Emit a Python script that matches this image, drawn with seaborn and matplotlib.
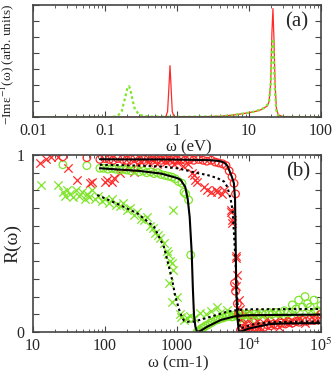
"""Loss function (a) and reflectivity (b) panels, redrawn with seaborn."""

import matplotlib
matplotlib.use("Agg")
import matplotlib.pyplot as plt
import matplotlib.ticker as mtick
import numpy as np
import pandas as pd
import seaborn as sns

RED = "#ff2b2b"
GREEN = "#7fe52a"

# ---- panel (a): -Im eps^-1 vs energy (eV)
loss_red_ev = [0.01, 0.5, 0.66, 0.7, 0.74, 0.77, 0.8, 0.83, 0.86, 0.9, 0.95, 1.0, 2.0,
               4.0, 6.0, 8.0, 10.0, 12.0, 14.0, 16.0, 18.0, 19.0, 20.0, 20.8, 21.5, 22.2,
               23.0, 24.0, 25.5, 30.0, 100.0]
loss_red = [0, 0, 0.002, 0.006, 0.05, 0.25, 0.46, 0.25, 0.05, 0.012, 0.005, 0.004, 0.003,
            0.008, 0.018, 0.03, 0.04, 0.05, 0.06, 0.08, 0.1, 0.14, 0.3, 0.75, 0.97, 0.7,
            0.3, 0.08, 0.02, 0.003, 0]
loss_green_ev = [0.01, 0.12, 0.15, 0.17, 0.19, 0.205, 0.215, 0.225, 0.24, 0.26, 0.3, 0.4,
                 1.0, 3.0, 5.0, 7.0, 10.0, 12.0, 14.0, 16.0, 18.0, 19.0, 20.0, 20.8, 21.5,
                 22.2, 23.0, 24.0, 25.5, 30.0, 100.0]
loss_green = [0, 0, 0.01, 0.05, 0.17, 0.26, 0.277, 0.25, 0.16, 0.07, 0.02, 0.005,
              0.003, 0.005, 0.012, 0.025, 0.04, 0.05, 0.065, 0.08, 0.11, 0.14, 0.3, 0.6,
              0.7, 0.5, 0.22, 0.06, 0.01, 0.002, 0]

# ---- panel (b): reflectivity vs wavenumber (cm-1)
red_x_w = [12.6, 15, 18, 22, 31, 41, 62, 66, 100, 107, 126, 132, 160, 200, 250, 280, 320,
           400, 470, 520, 600, 700, 800, 900, 1000, 1200, 1400, 1600, 1700, 1800, 1900,
           2340, 2630, 2950, 3470, 3630, 4270, 4470, 5620, 5560, 5890, 5890, 6530, 6530,
           6900, 6530, 7240, 7500, 7900, 8500, 9000, 10000, 11000, 12000, 13000, 14000,
           16000, 18000, 20000, 23000, 26000, 30000, 35000, 40000, 50000, 60000, 80000,
           100000]
red_x_r = [0.953, 0.98, 0.99, 0.99, 0.925, 0.86, 0.84, 0.85, 0.85, 0.86, 0.85, 0.87, 0.9,
           0.93, 0.905, 0.95, 0.96, 0.96, 0.97, 0.95, 0.97, 0.96, 0.97, 0.95, 0.96, 0.94,
           0.95, 0.9, 0.887, 0.86, 0.85, 0.82, 0.8, 0.79, 0.8, 0.79, 0.78, 0.8, 0.69, 0.68,
           0.63, 0.614, 0.43, 0.416, 0.32, 0.26, 0.18, 0.13, 0.08, 0.05, 0.1, 0.07, 0.04,
           0.09, 0.06, 0.03, 0.05, 0.08, 0.04, 0.06, 0.03, 0.07, 0.05, 0.06, 0.08, 0.05,
           0.07, 0.09]

red_o_w = [26, 56, 85, 100, 115, 130, 150, 175, 200, 230, 260, 300, 350, 400, 450, 520,
           600, 700, 800, 900, 1000, 1150, 1300, 1500, 1700, 2000, 2300, 2600, 3000, 3400,
           3800, 4300, 4800, 5300, 5800, 6200, 6500, 6300, 6500, 6900, 7200, 7600, 8000,
           8500, 9000, 9500, 10000, 11000, 12000, 13000, 14500, 16000, 18000, 20000, 22000,
           25000, 28000, 32000, 36000, 40000, 45000, 50000, 56000, 63000, 70000, 80000,
           90000, 100000]
red_o_r = [0.99, 0.985, 0.975, 0.98, 0.975, 0.97, 0.98, 0.975, 0.97, 0.975, 0.98, 0.97,
           0.975, 0.98, 0.97, 0.975, 0.97, 0.975, 0.97, 0.975, 0.97, 0.975, 0.97, 0.975,
           0.97, 0.975, 0.97, 0.965, 0.97, 0.96, 0.955, 0.95, 0.94, 0.91, 0.877, 0.84,
           0.78, 0.275, 0.23, 0.16, 0.105, 0.01, 0.02, 0.0, 0.015, 0.005, 0.02, 0.01, 0.025,
           0.02, 0.03, 0.025, 0.04, 0.035, 0.045, 0.04, 0.05, 0.045, 0.055, 0.05, 0.06,
           0.055, 0.065, 0.06, 0.07, 0.065, 0.08, 0.1]

green_x_w = [13, 22, 26, 28, 30, 33, 36, 40, 44, 48, 52, 56, 60, 66, 72, 80, 90, 100, 115,
             125, 140, 160, 180, 200, 220, 250, 280, 320, 350, 380, 420, 470, 500, 550,
             590, 650, 720, 760, 800, 850, 870, 780, 850, 870, 1000, 1100, 1120, 1250,
             1380, 1500, 1700, 2100, 2500, 3000, 3600, 4000, 5000, 6000, 7000, 8000, 9000,
             10000, 11500, 13000, 15000, 18000, 22000, 27000, 33000, 40000, 50000, 65000,
             80000]
green_x_r = [0.83, 0.83, 0.79, 0.77, 0.8, 0.78, 0.76, 0.8, 0.77, 0.79, 0.75, 0.78, 0.76,
             0.8, 0.75, 0.77, 0.74, 0.75, 0.73, 0.75, 0.72, 0.71, 0.73, 0.69, 0.7, 0.66,
             0.68, 0.64, 0.63, 0.65, 0.6, 0.585, 0.56, 0.55, 0.53, 0.5, 0.46, 0.44, 0.4,
             0.39, 0.35, 0.275, 0.17, 0.69, 0.2, 0.1, 0.087, 0.07, 0.077, 0.09, 0.08, 0.105,
             0.1, 0.12, 0.143, 0.11, 0.124, 0.1, 0.09, 0.07, 0.11, 0.08, 0.1, 0.07, 0.09,
             0.08, 0.1, 0.09, 0.08, 0.1, 0.09, 0.11, 0.1]

green_o_w = [26, 56, 85, 95, 110, 125, 140, 160, 180, 200, 230, 260, 300, 340, 380, 430,
             480, 540, 600, 680, 760, 850, 950, 1050, 1175, 1250, 1320, 1450, 1550, 1900,
             2000, 2100, 2200, 2350, 2500, 2700, 2900, 3100, 3400, 3700, 4000, 4400, 4800,
             5300, 5800, 6300, 7000, 7800, 8500, 9500, 10500, 12000, 13500, 15000, 17000,
             19000, 21000, 24000, 27000, 31000, 35000, 40000, 45000, 49000, 55000, 60000,
             65000, 71000, 80000, 90000, 100000]
green_o_r = [0.945, 0.94, 0.925, 0.925, 0.92, 0.925, 0.92, 0.915, 0.92, 0.915, 0.91,
             0.915, 0.905, 0.91, 0.9, 0.905, 0.895, 0.9, 0.89, 0.885, 0.88, 0.875, 0.865,
             0.85, 0.84, 0.79, 0.78, 0.746, 0.435, 0.0, 0.005, 0.01, 0.02, 0.025, 0.035,
             0.04, 0.05, 0.055, 0.065, 0.07, 0.075, 0.08, 0.085, 0.09, 0.085, 0.095, 0.09,
             0.1, 0.095, 0.1, 0.09, 0.1, 0.095, 0.105, 0.1, 0.11, 0.1, 0.11, 0.105, 0.12,
             0.11, 0.153, 0.13, 0.18, 0.14, 0.2, 0.16, 0.14, 0.18, 0.12, 0.15]

# model curves (black)
fit_red_solid_w = [85, 200, 500, 1000, 2000, 3000, 3800, 4500, 5000, 5300, 5800, 6170,
                   6400, 6530, 6650, 6900, 7240, 8000, 10000, 15000, 20000, 30000, 100000]
fit_red_solid_r = [0.976, 0.975, 0.975, 0.974, 0.972, 0.97, 0.966, 0.958, 0.94, 0.915,
                   0.875, 0.84, 0.75, 0.5, 0.25, 0.08, 0.0, 0.005, 0.02, 0.035, 0.045,
                   0.048, 0.05]
fit_red_dot_w = [85, 300, 600, 1000, 1300, 1800, 2630, 3600, 4500, 5000, 5560, 5900, 6200,
                 6500, 6800, 7200, 7600, 9000, 12000, 20000, 100000]
fit_red_dot_r = [0.945, 0.94, 0.935, 0.925, 0.915, 0.9, 0.887, 0.87, 0.85, 0.82, 0.75,
                 0.69, 0.55, 0.4, 0.2, 0.08, 0.02, 0.03, 0.045, 0.055, 0.06]
fit_green_solid_w = [85, 300, 600, 1000, 1120, 1300, 1410, 1500, 1600, 1660, 1720, 1800,
                     1900, 2100, 2630, 4070, 6170, 7600, 10000, 100000]
fit_green_solid_r = [0.925, 0.91, 0.895, 0.87, 0.86, 0.82, 0.75, 0.65, 0.45, 0.25, 0.1,
                     0.03, 0.0, 0.005, 0.03, 0.068, 0.087, 0.092, 0.095, 0.098]
fit_green_dot_w = [78, 162, 282, 479, 660, 760, 850, 950, 1100, 1245, 1400, 1700, 2950,
                   5000, 6900, 10000, 100000]
fit_green_dot_r = [0.774, 0.717, 0.67, 0.595, 0.48, 0.38, 0.3, 0.2, 0.11, 0.065, 0.058,
                   0.058, 0.086, 0.115, 0.124, 0.128, 0.13]

sns.set_theme(style="ticks")
plt.rcParams["font.family"] = ["Liberation Serif", "DejaVu Serif"]
plt.rcParams["mathtext.fontset"] = "stix"
plt.rcParams["axes.edgecolor"] = "#444444"
plt.rcParams["axes.linewidth"] = 1.2

fig = plt.figure(figsize=(3.33, 3.73), dpi=100)
ax1 = fig.add_axes([0.099, 0.686, 0.865, 0.300])
ax2 = fig.add_axes([0.099, 0.110, 0.865, 0.4745])


def style_axis(axis):
    axis.set_xscale("log")
    axis.tick_params(which="both", direction="in", top=True, right=True,
                     color="#444444", labelsize=11.5)
    axis.tick_params(which="major", length=4, width=0.8)
    axis.tick_params(which="minor", length=2.2, width=0.6)


# panel (a)
top_red = pd.DataFrame({"w": loss_red_ev, "v": loss_red})
top_green = pd.DataFrame({"w": loss_green_ev, "v": loss_green})
sns.lineplot(data=top_red, x="w", y="v", color=RED, lw=0.9, sort=False,
             estimator=None, ax=ax1)
sns.lineplot(data=top_green, x="w", y="v", color=GREEN, lw=1.6, ls=(0, (1.2, 1.2)),
             sort=False, estimator=None, ax=ax1)
style_axis(ax1)
ax1.set_xlim(0.01, 100)
ax1.set_ylim(0, 1)
ax1.set_yticks(np.arange(0, 1.001, 1 / 7))
ax1.set_yticklabels([])
ax1.xaxis.set_major_formatter(mtick.FuncFormatter(lambda v, _: f"{v:g}"))
ax1.tick_params(axis="x", pad=4)
ax1.set_xlabel("ω (eV)", fontsize=12)
ax1.xaxis.set_label_coords(0.54, -0.2)
ax1.set_ylabel("−Imε$^{-1}$(ω) (arb. units)", fontsize=9.6)
ax1.yaxis.set_label_coords(-0.058, 0.47)
ax1.text(0.917, 0.85, "(a)", transform=ax1.transAxes, fontsize=15,
         ha="center", va="center")

# panel (b)
sns.scatterplot(x=green_x_w, y=green_x_r, marker="x", color=GREEN, s=36,
                linewidth=0.9, ax=ax2)
sns.scatterplot(x=red_x_w, y=red_x_r, marker="x", color=RED, s=36,
                linewidth=0.9, ax=ax2)
sns.scatterplot(x=green_o_w, y=green_o_r, marker="o", facecolor="none",
                edgecolor=GREEN, s=30, linewidth=0.9, ax=ax2)
sns.scatterplot(x=red_o_w, y=red_o_r, marker="o", facecolor="none",
                edgecolor=RED, s=30, linewidth=0.9, ax=ax2)

for w, r, ls in [(fit_red_solid_w, fit_red_solid_r, "-"),
                 (fit_green_solid_w, fit_green_solid_r, "-"),
                 (fit_red_dot_w, fit_red_dot_r, (0, (1.2, 1.4))),
                 (fit_green_dot_w, fit_green_dot_r, (0, (1.2, 1.4)))]:
    sns.lineplot(x=w, y=r, color="black", lw=1.5, ls=ls, sort=False,
                 estimator=None, ax=ax2)

style_axis(ax2)
ax2.set_xlim(10, 1e5)
ax2.set_ylim(0, 1)
ax2.set_xticks([10, 100, 1000, 1e4, 1e5])
ax2.set_xticklabels(["10", "100", "1000", "10$^4$", "10$^5$"])
ax2.set_yticks(np.arange(0, 1.001, 0.1))
ax2.set_yticklabels(["0"] + [""] * 9 + ["1"])
ax2.tick_params(axis="x", pad=4)
ax2.tick_params(axis="y", pad=6)
ax2.set_xlabel("ω (cm-1)", fontsize=12)
ax2.xaxis.set_label_coords(0.503, -0.135)
ax2.set_ylabel("R(ω)", fontsize=14)
ax2.yaxis.set_label_coords(-0.04, 0.5)
ax2.text(0.92, 0.905, "(b)", transform=ax2.transAxes, fontsize=15,
         ha="center", va="center")

fig.savefig("out.png", dpi=100)
